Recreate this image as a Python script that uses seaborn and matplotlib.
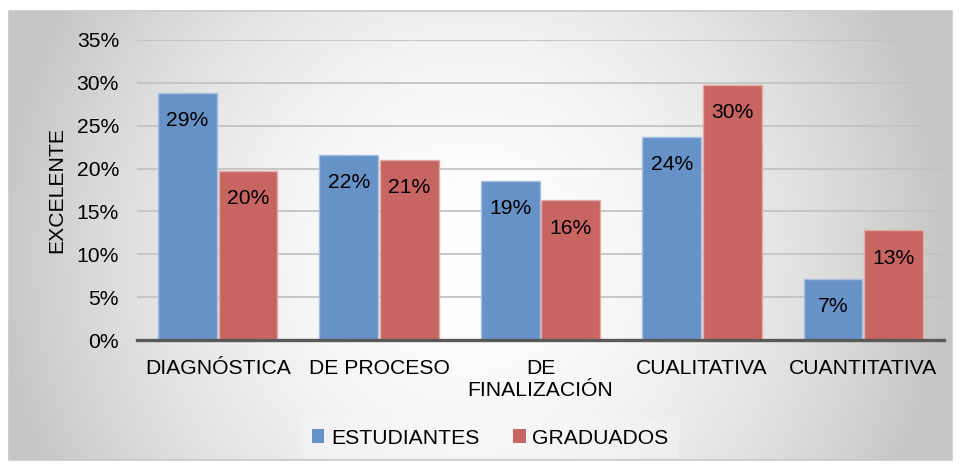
import matplotlib.pyplot as plt
import matplotlib.patches as mpatches
import numpy as np
import pandas as pd
import seaborn as sns
from matplotlib.ticker import PercentFormatter

categories = ["DIAGNÓSTICA", "DE PROCESO", "DE\nFINALIZACIÓN", "CUALITATIVA", "CUANTITATIVA"]
series = ["ESTUDIANTES", "GRADUADOS"]
estudiantes = [0.288, 0.216, 0.1855, 0.237, 0.071]
graduados = [0.197, 0.210, 0.163, 0.2975, 0.128]
y_ticks = [0, 0.05, 0.10, 0.15, 0.20, 0.25, 0.30, 0.35]
y_title = "EXCELENTE"

colors = ["#6692c7", "#c76563"]
edges = ["#a8c0e0", "#e3a9a7"]


def main() -> None:
    plt.rcParams['font.family'] = ['Liberation Sans', 'DejaVu Sans']
    fs = 15.2

    df = pd.DataFrame({
        "cat": categories * 2,
        "serie": [series[0]] * len(categories) + [series[1]] * len(categories),
        "val": estudiantes + graduados,
    })

    W, H = 961, 468
    fig = plt.figure(figsize=(W / 100, H / 100), dpi=100)

    # radial gradient background
    bg = fig.add_axes([0, 0, 1, 1], zorder=-10)
    bg.set_xlim(0, W)
    bg.set_ylim(H, 0)
    bg.axis('off')
    x0, x1, y0, y1 = 9, 952, 11, 460
    xx, yy = np.meshgrid(np.linspace(-1, 1, 400), np.linspace(-1, 1, 200))
    cx, cy = -0.02, 0.1
    r = np.sqrt(((xx - cx) / 1.0) ** 2 + ((yy - cy) / 2.2) ** 2)
    r = np.clip(r, 0, 1)
    val = 1 - 0.22 * r ** 1.8
    img = np.dstack([val, val, val])
    bg.imshow(img, extent=(x0, x1, y1, y0), aspect='auto', interpolation='bilinear')
    bg.add_patch(mpatches.Rectangle((x0, y0), x1 - x0, y1 - y0, fill=False,
                                    edgecolor="#c8c8c8", linewidth=1.2))

    ax = fig.add_axes([137 / W, 1 - 340 / H, (944 - 137) / W, 300 / H])
    ax.patch.set_alpha(0)

    sns.barplot(data=df, x="cat", y="val", hue="serie", palette=colors, saturation=1,
                width=0.75, gap=0.03, ax=ax, legend=False, zorder=3)

    for cont, ec in zip(ax.containers, edges):
        for bar in cont:
            bar.set_edgecolor(ec)
            bar.set_linewidth(1)
            h = bar.get_height()
            ax.annotate(f"{round(h * 100):.0f}%",
                        (bar.get_x() + bar.get_width() / 2, h),
                        xytext=(0, -20), textcoords='offset points',
                        ha='center', va='center', fontsize=fs, color='black', zorder=5)

    ax.set_xlim(-0.5, len(categories) - 0.5)
    ax.set_ylim(0, 0.35)
    ax.set_yticks(y_ticks)
    ax.yaxis.set_major_formatter(PercentFormatter(1.0, decimals=0))
    ax.grid(axis='y', color="#c3c3c3", linewidth=1.3, zorder=0)
    ax.set_axisbelow(True)
    for s in ["top", "right", "left"]:
        ax.spines[s].set_visible(False)
    ax.spines["bottom"].set_color("#595959")
    ax.spines["bottom"].set_linewidth(2.4)
    ax.spines["bottom"].set_zorder(4)
    ax.tick_params(axis='both', length=0, labelsize=fs, colors='black')
    ax.tick_params(axis='y', pad=13)
    ax.tick_params(axis='x', pad=14)
    for lbl in ax.get_xticklabels():
        lbl.set_linespacing(1.15)
    ax.set_xlabel("")
    ax.set_ylabel(y_title, fontsize=fs)
    ax.yaxis.set_label_coords(-0.088, 0.5)

    handles = [mpatches.Patch(facecolor=c, edgecolor='none') for c in colors]
    fig.legend(handles, series, loc='center', bbox_to_anchor=(490 / W, 1 - 438 / H),
               ncol=2, fontsize=fs, frameon=True, facecolor='white', framealpha=0.2,
               edgecolor='none', fancybox=False, handlelength=0.6, handleheight=0.6,
               handletextpad=0.3, columnspacing=1.6, borderpad=0.5)

    fig.savefig("out.png", dpi=100)


if __name__ == "__main__":
    main()
